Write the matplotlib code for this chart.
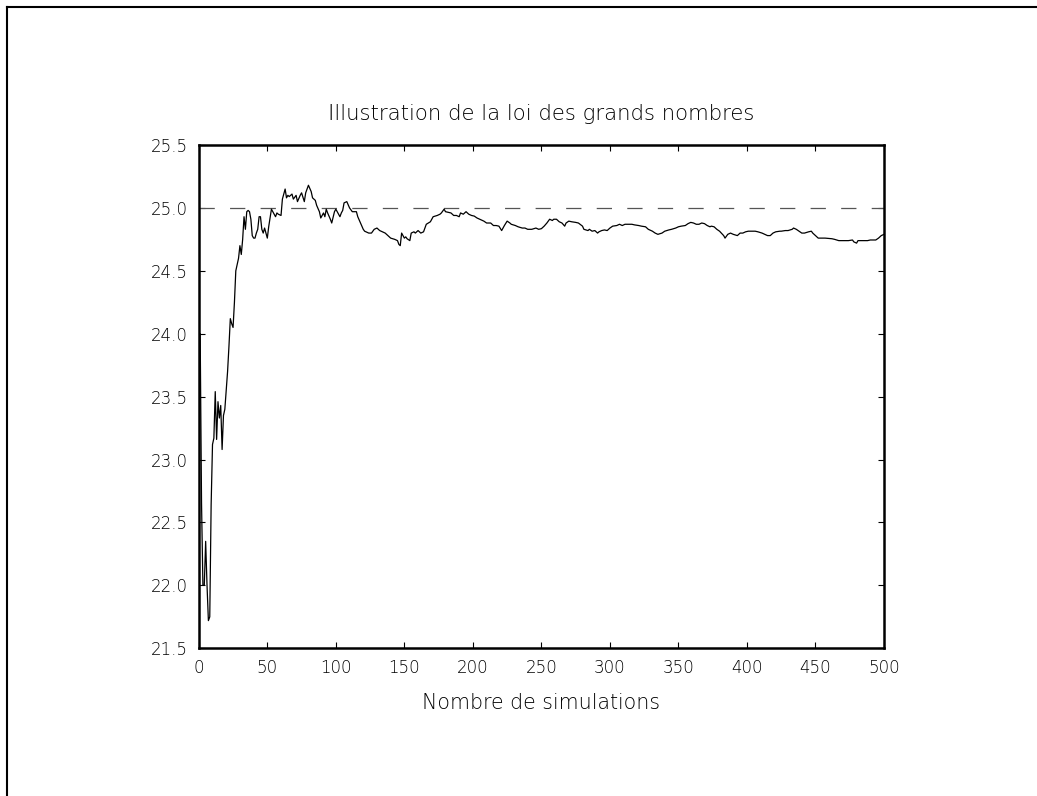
import matplotlib
matplotlib.use("Agg")
import matplotlib.pyplot as plt
from matplotlib.lines import Line2D

# Running mean of the simulated values (number of simulations, mean)
n_sim = [1, 2, 3, 4, 5, 6, 7, 8, 9, 10, 11, 12, 13, 14, 15, 16, 17, 18, 19, 20,
         21, 22, 23, 24, 25, 26, 27, 28, 29, 30, 31, 32, 33, 34, 35, 36, 37, 38, 39, 40,
         41, 42, 43, 44, 45, 46, 47, 48, 49, 50, 51, 52, 53, 54, 55, 56, 57, 58, 60, 61,
         63, 64, 65, 66, 68, 69, 71, 72, 74, 75, 77, 78, 80, 82, 83, 85, 86, 88, 89, 91,
         92, 93, 94, 96, 97, 99, 100, 101, 103, 104, 105, 106, 108, 110, 112, 115, 116, 118, 120, 121,
         124, 126, 128, 130, 132, 134, 136, 138, 140, 143, 145, 146, 147, 148, 150, 151, 152, 154, 155, 157,
         158, 160, 162, 164, 166, 169, 171, 174, 176, 177, 179, 180, 182, 184, 186, 188, 190, 191, 193, 195,
         197, 199, 201, 203, 205, 208, 210, 213, 215, 217, 219, 221, 223, 225, 227, 228, 231, 233, 236, 238,
         240, 243, 246, 248, 250, 252, 254, 256, 258, 259, 261, 263, 265, 267, 268, 270, 272, 275, 277, 280,
         281, 284, 285, 287, 289, 291, 292, 294, 296, 298, 300, 302, 305, 307, 309, 311, 314, 316, 318, 321,
         323, 326, 328, 331, 333, 335, 338, 340, 343, 345, 348, 350, 352, 355, 357, 359, 361, 363, 365, 367,
         369, 371, 373, 374, 376, 378, 380, 383, 384, 386, 388, 390, 393, 395, 397, 399, 401, 404, 406, 408,
         411, 413, 415, 417, 419, 421, 424, 425, 428, 430, 433, 434, 436, 438, 440, 442, 445, 447, 448, 450,
         452, 455, 457, 460, 462, 464, 467, 469, 472, 474, 477, 478, 480, 481, 483, 485, 488, 490, 492, 494,
         496, 498, 500]
running_mean = [24.00, 22.65, 22.00, 22.00, 22.35, 22.00, 21.72, 21.75, 22.64, 23.12, 23.17, 23.54, 23.16, 23.46, 23.33, 23.43, 23.08, 23.35, 23.40, 23.55,
                23.70, 23.90, 24.12, 24.08, 24.05, 24.25, 24.50, 24.55, 24.60, 24.70, 24.63, 24.75, 24.93, 24.83, 24.97, 24.98, 24.97, 24.91, 24.78, 24.76,
                24.76, 24.80, 24.83, 24.93, 24.93, 24.83, 24.80, 24.84, 24.80, 24.76, 24.85, 24.92, 24.99, 24.97, 24.95, 24.93, 24.96, 24.95, 24.94, 25.07,
                25.15, 25.08, 25.10, 25.09, 25.11, 25.07, 25.10, 25.05, 25.10, 25.12, 25.05, 25.12, 25.18, 25.13, 25.08, 25.06, 25.02, 24.97, 24.92, 24.96,
                24.93, 24.99, 24.96, 24.91, 24.88, 24.97, 24.99, 24.97, 24.93, 24.96, 24.98, 25.04, 25.05, 25.00, 24.97, 24.97, 24.93, 24.88, 24.83, 24.815,
                24.80, 24.80, 24.83, 24.84, 24.82, 24.81, 24.80, 24.78, 24.76, 24.75, 24.74, 24.71, 24.70, 24.80, 24.76, 24.77, 24.755, 24.74, 24.80, 24.81,
                24.80, 24.82, 24.80, 24.81, 24.87, 24.89, 24.93, 24.94, 24.95, 24.96, 24.99, 24.97, 24.965, 24.96, 24.94, 24.94, 24.93, 24.96, 24.95, 24.97,
                24.95, 24.94, 24.935, 24.92, 24.91, 24.895, 24.88, 24.88, 24.86, 24.86, 24.855, 24.82, 24.86, 24.895, 24.88, 24.87, 24.86, 24.85, 24.84, 24.84,
                24.83, 24.83, 24.84, 24.83, 24.835, 24.855, 24.88, 24.91, 24.90, 24.91, 24.91, 24.89, 24.88, 24.855, 24.88, 24.895, 24.89, 24.885, 24.88, 24.855,
                24.83, 24.82, 24.83, 24.815, 24.82, 24.80, 24.81, 24.82, 24.825, 24.82, 24.84, 24.855, 24.86, 24.87, 24.86, 24.87, 24.87, 24.87, 24.865, 24.86,
                24.855, 24.85, 24.83, 24.815, 24.80, 24.79, 24.80, 24.815, 24.825, 24.83, 24.84, 24.85, 24.855, 24.86, 24.875, 24.885, 24.88, 24.87, 24.87, 24.88,
                24.875, 24.86, 24.85, 24.855, 24.85, 24.83, 24.815, 24.78, 24.76, 24.79, 24.80, 24.79, 24.78, 24.80, 24.80, 24.81, 24.815, 24.815, 24.815, 24.81,
                24.80, 24.79, 24.78, 24.78, 24.80, 24.81, 24.815, 24.815, 24.82, 24.82, 24.83, 24.84, 24.83, 24.815, 24.80, 24.80, 24.81, 24.815, 24.80, 24.78,
                24.76, 24.76, 24.76, 24.757, 24.755, 24.75, 24.74, 24.74, 24.74, 24.74, 24.745, 24.73, 24.72, 24.74, 24.74, 24.74, 24.74, 24.745, 24.745, 24.745,
                24.76, 24.78, 24.79]

expected_value = 25.0
x_ticks = [0, 50, 100, 150, 200, 250, 300, 350, 400, 450, 500]
y_ticks = [21.5, 22.0, 22.5, 23.0, 23.5, 24.0, 24.5, 25.0, 25.5]

plt.rcParams['font.family'] = ['DejaVu Sans']
plt.rcParams['lines.scale_dashes'] = False

W, H = 1037, 796
fig = plt.figure(figsize=(W / 100, H / 100), dpi=100)
ax = fig.add_axes([198.8 / W, 1 - 648.3 / H, (884 - 198.8) / W, (648.3 - 145) / H])

# Outer frame (left and top edges)
fig.add_artist(Line2D([6.5 / W, 6.5 / W], [0, 1 - 6.5 / H], transform=fig.transFigure,
                      color='black', lw=1.5))
fig.add_artist(Line2D([6.5 / W, 1], [1 - 6.5 / H, 1 - 6.5 / H], transform=fig.transFigure,
                      color='black', lw=1.5))

ax.plot([0, 500], [expected_value, expected_value], color='#555555', lw=0.9,
        dashes=(11, 11))
ax.plot(n_sim, running_mean, color='black', lw=0.9)

ax.set_xlim(0, 500)
ax.set_ylim(21.5, 25.5)
ax.set_xticks(x_ticks)
ax.set_xticklabels([str(v) for v in x_ticks])
ax.set_yticks(y_ticks)
ax.set_yticklabels([f"{v:.1f}" for v in y_ticks])

for sp in ax.spines.values():
    sp.set_linewidth(1.8)

ax.tick_params(direction='in', length=4, width=0.8, top=True, right=True,
               labelsize=12, pad=8, labelcolor='black')
for lbl in ax.get_xticklabels() + ax.get_yticklabels():
    lbl.set_fontweight('light')

ax.set_title("Illustration de la loi des grands nombres", fontsize=15.3,
             fontweight='light', color='black', pad=18)
ax.set_xlabel("Nombre de simulations", fontsize=14.8, fontweight='light',
              color='black', labelpad=11)

fig.savefig("out.png", dpi=100, facecolor='white')
